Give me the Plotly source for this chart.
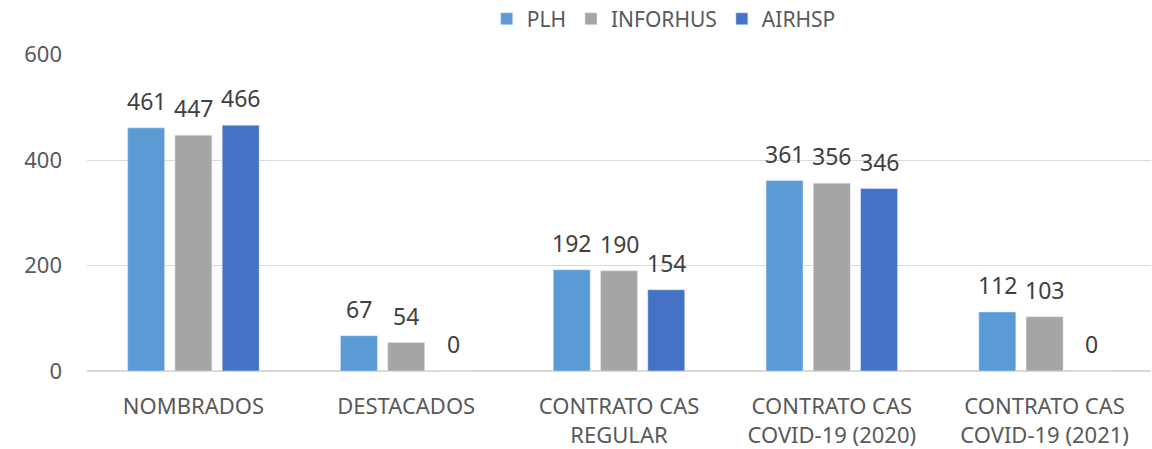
import plotly.graph_objects as go

categories = ["NOMBRADOS", "DESTACADOS", "CONTRATO CAS<br>REGULAR",
              "CONTRATO CAS<br>COVID-19 (2020)", "CONTRATO CAS<br>COVID-19 (2021)"]
plh = [461, 67, 192, 361, 112]
inforhus = [447, 54, 190, 356, 103]
airhsp = [466, 0, 154, 346, 0]
series_names = ["PLH", "INFORHUS", "AIRHSP"]
colors = ["#5B9BD5", "#A5A5A5", "#4472C4"]
y_ticks = [0, 200, 400, 600]

font_family = "Noto Sans, Open Sans, sans-serif"
text_color = "#595959"

fig = go.Figure()
series = [plh, inforhus, airhsp]
slot_px = 47.3
for i, (name, vals, col) in enumerate(zip(series_names, series, colors)):
    fig.add_trace(go.Bar(
        x=categories, y=vals, name=name, marker_color=col,
    ))
    for cat, v in zip(categories, vals):
        fig.add_annotation(
            x=cat, y=v, text=str(v), showarrow=False,
            xshift=(i - 1) * slot_px, yshift=27, yanchor="middle",
            font=dict(size=23, color="#404040", family=font_family),
        )

fig.update_layout(
    width=1152, height=449,
    barmode="group", bargap=0.3335, bargroupgap=0.218,
    plot_bgcolor="white", paper_bgcolor="white",
    margin=dict(l=87, r=1, t=54, b=78, autoexpand=False),
    font=dict(family=font_family, color=text_color, size=20),
    legend=dict(orientation="h", x=0.542, xanchor="center", y=1.11, yanchor="middle",
                yref="paper", font=dict(size=21, color=text_color),
                traceorder="normal"),
    yaxis=dict(range=[0, 601], tickvals=y_ticks, gridcolor="#D9D9D9", gridwidth=1,
               zeroline=True, zerolinecolor="#D9D9D9", showline=False,
               tickfont=dict(size=22, color=text_color), ticklabelstandoff=24),
    xaxis=dict(tickfont=dict(size=22, color=text_color), showline=False,
               ticklabelstandoff=20),
)
fig.write_html("out.html", config={"displayModeBar": False},
               post_script="document.body.style.margin='0';")
